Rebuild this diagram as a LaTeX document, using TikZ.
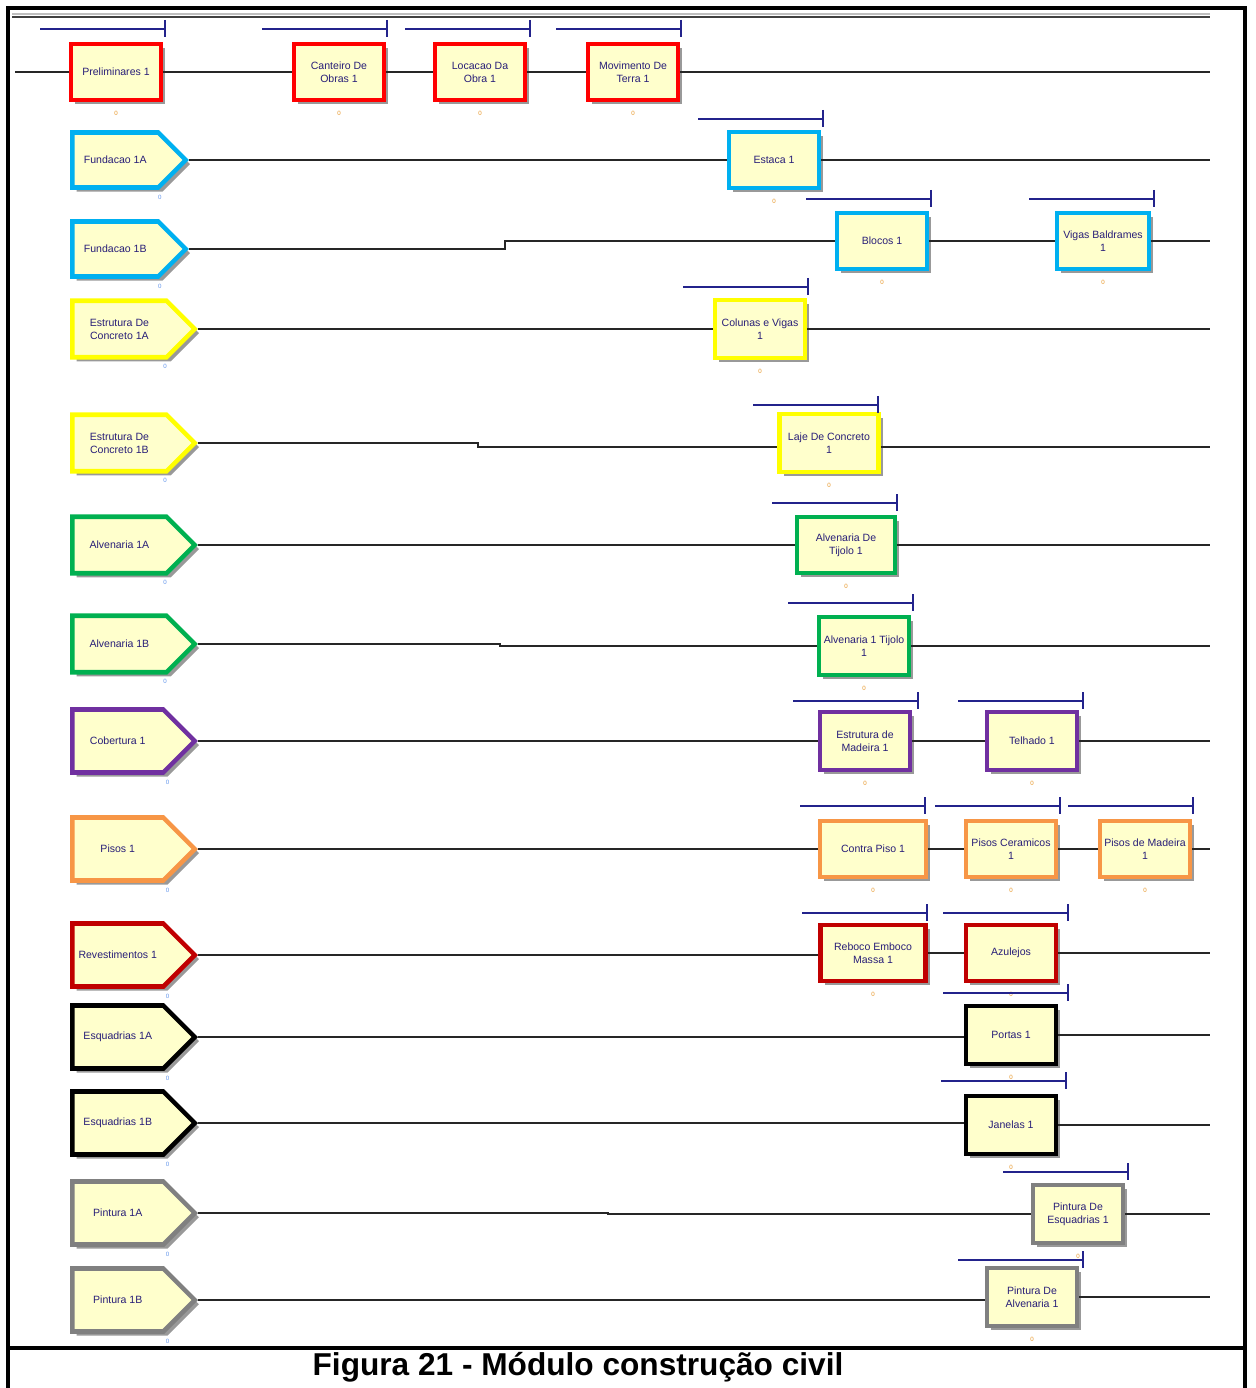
\documentclass[tikz,border=0pt]{standalone}
\usepackage{fontspec}
\setmainfont{Liberation Sans}
\usetikzlibrary{shapes.symbols,shadows}
\definecolor{arRed}{RGB}{255,0,0}
\definecolor{arCyan}{RGB}{0,176,240}
\definecolor{arYellow}{RGB}{255,255,0}
\definecolor{arGreen}{RGB}{0,176,80}
\definecolor{arPurple}{RGB}{112,48,160}
\definecolor{arOrange}{RGB}{247,150,70}
\definecolor{arDark}{RGB}{192,0,0}
\definecolor{arGray}{RGB}{128,128,128}
\definecolor{arFill}{RGB}{255,255,204}
\definecolor{arInk}{RGB}{40,30,120}
\definecolor{arBar}{RGB}{35,35,140}
\definecolor{arCnt}{RGB}{230,150,40}
\definecolor{arCntC}{RGB}{100,150,235}
\tikzset{arpanel/.style={
  x=0.02cm, y=-0.02cm,
  font=\fontsize{6}{7.4}\selectfont,
  proc/.style={rectangle, draw, line width=2.6pt, fill=arFill, text=arInk, align=center,
    minimum width=1.8cm, minimum height=1.12cm, inner sep=1pt,
    drop shadow={shadow xshift=2.4pt, shadow yshift=-2.4pt, fill=black!40, opacity=1},
    label={[cnt]below:0}},
  create/.style={signal, signal to=east, signal pointer angle=90, draw, line width=2.6pt,
    fill=arFill, text=arInk, align=center, minimum width=2.45cm, minimum height=1.13cm, inner sep=1pt,
    anchor=west,
    drop shadow={shadow xshift=2.4pt, shadow yshift=-2.4pt, fill=black!40, opacity=1},
    label={[ccnt]-38:0}},
  wire/.style={line width=1.1pt, black!85},
  qbar/.style={line width=1.2pt, arBar},
}}

\begin{document}
\begin{tikzpicture}[arpanel,
  cnt/.style={font=\fontsize{3.5}{4}\selectfont, text=arCnt, label distance=1.5pt},
  ccnt/.style={font=\fontsize{3.5}{4}\selectfont, text=arCntC, label distance=-1pt},
  frame/.style={line width=2.6pt, black},
  caption/.style={font=\fontsize{18}{20}\selectfont\bfseries},
]
\useasboundingbox (0,0) rectangle (1255,1388);

% frame and caption
\draw[frame] (8,1388) -- (8,8) -- (1245,8) -- (1245,1388);
\draw[frame] (8,1348) -- (1245,1348);
\draw[line width=1.2pt, black!25] (12,14) -- (1210,14);
\draw[line width=1.2pt, black!75] (12,17) -- (1210,17);
\node[caption] (cap) at (578,1367) {Figura 21 - Módulo construção civil};

% =====================================================================
% Create modules (left column, placed by their left edge)
% =====================================================================
\node[create, draw=arCyan, minimum width=2.27cm, minimum height=1.1cm] (cFundA) at (70,160) {Fundacao 1A};
\node[create, draw=arCyan, minimum width=2.27cm, minimum height=1.1cm] (cFundB) at (70,249) {Fundacao 1B};
\node[create, draw=arYellow] (cConcA) at (70,329) {Estrutura De\\Concreto 1A};
\node[create, draw=arYellow] (cConcB) at (70,443) {Estrutura De\\Concreto 1B};
\node[create, draw=arGreen] (cAlvA) at (70,545) {Alvenaria 1A};
\node[create, draw=arGreen] (cAlvB) at (70,644) {Alvenaria 1B};
\node[create, draw=arPurple, minimum height=1.26cm] (cCob) at (70,741) {Cobertura 1};
\node[create, draw=arOrange, minimum height=1.26cm] (cPisos) at (70,849) {Pisos 1};
\node[create, draw=arDark, minimum height=1.26cm] (cRev) at (70,955) {Revestimentos 1};
\node[create, draw=black, minimum height=1.26cm] (cEsqA) at (70,1037) {Esquadrias 1A};
\node[create, draw=black, minimum height=1.26cm] (cEsqB) at (70,1123) {Esquadrias 1B};
\node[create, draw=arGray, minimum height=1.26cm] (cPintA) at (70,1213) {Pintura 1A};
\node[create, draw=arGray, minimum height=1.26cm] (cPintB) at (70,1300) {Pintura 1B};

% =====================================================================
% Process modules
% =====================================================================
\node[proc, draw=arRed] (pPrelim) at (116,72) {Preliminares 1};
\node[proc, draw=arRed] (pCanteiro) at (339,72) {Canteiro De\\Obras 1};
\node[proc, draw=arRed] (pLocacao) at (480,72) {Locacao Da\\Obra 1};
\node[proc, draw=arRed] (pMovimento) at (633,72) {Movimento De\\Terra 1};
\node[proc, draw=arCyan] (pEstaca) at (774,160) {Estaca 1};
\node[proc, draw=arCyan] (pBlocos) at (882,241) {Blocos 1};
\node[proc, draw=arCyan, minimum width=1.84cm] (pVigas) at (1103,241) {Vigas Baldrames\\1};
\node[proc, draw=arYellow, minimum height=1.16cm] (pColunas) at (760,329) {Colunas e Vigas\\1};
\node[proc, draw=arYellow, minimum width=1.98cm, minimum height=1.16cm] (pLaje) at (829,443) {Laje De Concreto\\1};
\node[proc, draw=arGreen, minimum width=1.96cm] (pAlvTijolo) at (846,545) {Alvenaria De\\Tijolo 1};
\node[proc, draw=arGreen, minimum height=1.16cm] (pAlvUm) at (864,646) {Alvenaria 1 Tijolo\\1};
\node[proc, draw=arPurple, minimum height=1.16cm] (pEstMadeira) at (865,741) {Estrutura de\\Madeira 1};
\node[proc, draw=arPurple, minimum height=1.16cm] (pTelhado) at (1032,741) {Telhado 1};
\node[proc, draw=arOrange, minimum width=2.12cm] (pContraPiso) at (873,849) {Contra Piso 1};
\node[proc, draw=arOrange] (pPisoCer) at (1011,849) {Pisos Ceramicos\\1};
\node[proc, draw=arOrange] (pPisoMad) at (1145,849) {Pisos de Madeira\\1};
\node[proc, draw=arDark, minimum width=2.1cm] (pReboco) at (873,953) {Reboco Emboco\\Massa 1};
\node[proc, draw=arDark] (pAzulejos) at (1011,953) {Azulejos};
\node[proc, draw=black, minimum height=1.16cm] (pPortas) at (1011,1035) {Portas 1};
\node[proc, draw=black, minimum height=1.16cm] (pJanelas) at (1011,1125) {Janelas 1};
\node[proc, draw=arGray, minimum height=1.16cm] (pPintEsq) at (1078,1214) {Pintura De\\Esquadrias 1};
\node[proc, draw=arGray, minimum height=1.16cm] (pPintAlv) at (1032,1297) {Pintura De\\Alvenaria 1};

% queue bars above the processes (right end, height)
\foreach \xe/\yb in {165/29, 387/29, 530/29, 681/29, 823/119, 931/199, 1154/199, 808/287,
  878/405, 897/503, 913/603, 918/701, 1083/701, 925/806, 1060/806, 1193/806,
  927/913, 1068/913, 1068/993, 1066/1081, 1128/1172, 1083/1260}{
  \draw[qbar] (\xe-125,\yb) -- (\xe,\yb);
  \draw[qbar] (\xe,\yb-9) -- (\xe,\yb+8);
}

% =====================================================================
% connections
% =====================================================================
\coordinate (s1) at (15,72);
\coordinate (k3) at (505,241);
\coordinate (k5) at (478,447);
\coordinate (k7) at (500,646);
\coordinate (k13) at (608,1214);

\draw[wire] (s1) -- (pPrelim) -- (pCanteiro) -- (pLocacao) -- (pMovimento) -- (pMovimento -| 1210,0);
\draw[wire] (cFundA.east) -- (pEstaca) -- (pEstaca -| 1210,0);
\draw[wire] (cFundB.east) -| (k3) -- (pBlocos) -- (pVigas) -- (pVigas -| 1210,0);
\draw[wire] (cConcA.east) -- (pColunas) -- (pColunas -| 1210,0);
\draw[wire] (cConcB.east) -| (k5) -- (pLaje.west |- k5);
\draw[wire] (pLaje.east |- k5) -- (k5 -| 1210,0);
\draw[wire] (cAlvA.east) -- (pAlvTijolo) -- (pAlvTijolo -| 1210,0);
\draw[wire] (cAlvB.east) -| (k7) -- (pAlvUm) -- (pAlvUm -| 1210,0);
\draw[wire] (cCob.east) -- (pEstMadeira) -- (pTelhado) -- (pTelhado -| 1210,0);
\draw[wire] (cPisos.east) -- (pContraPiso) -- (pPisoCer) -- (pPisoMad) -- (pPisoMad -| 1210,0);
\draw[wire] (cRev.east) -- (pReboco.west |- cRev.east);
\draw[wire] (pReboco) -- (pAzulejos) -- (pAzulejos -| 1210,0);
\draw[wire] (cEsqA.east) -- (pPortas.west |- cEsqA.east);
\draw[wire] (pPortas) -- (pPortas -| 1210,0);
\draw[wire] (cEsqB.east) -- (pJanelas.west |- cEsqB.east);
\draw[wire] (pJanelas) -- (pJanelas -| 1210,0);
\draw[wire] (cPintA.east) -| (k13) -- (pPintEsq) -- (pPintEsq -| 1210,0);
\draw[wire] (cPintB.east) -- (pPintAlv.west |- cPintB.east);
\draw[wire] (pPintAlv) -- (pPintAlv -| 1210,0);

\end{tikzpicture}
\end{document}
